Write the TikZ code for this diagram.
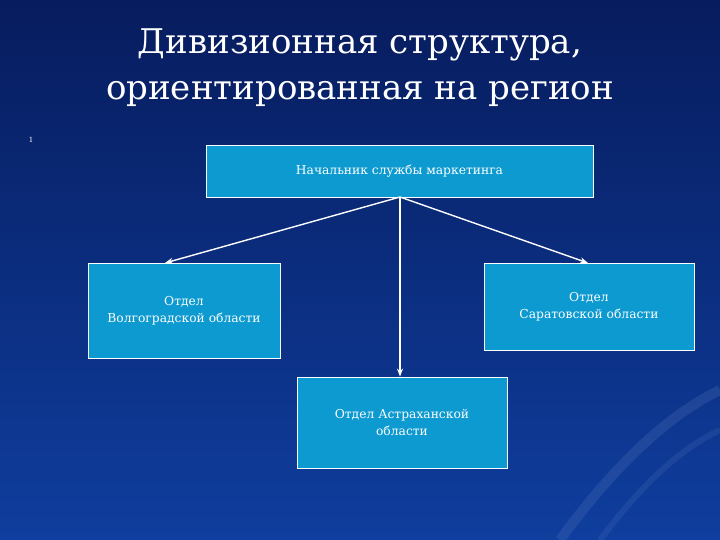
\documentclass[tikz,border=0pt]{standalone}
\usepackage{fontspec}
\setmainfont{DejaVu Serif}
\usetikzlibrary{arrows.meta}
\definecolor{bgtop}{HTML}{071C5E}
\definecolor{bgbot}{HTML}{0F3E9E}
\definecolor{boxc}{HTML}{0C9AD0}
\begin{document}
\begin{tikzpicture}[x=1pt,y=-1pt,
  box/.style={draw=white,line width=0.8pt,fill=boxc,text=white,align=center,font=\fontsize{12.3}{17}\selectfont,inner sep=2pt},
  conn/.style={draw=white,line width=1.4pt,-{Stealth[length=8pt,width=6pt]}}]
\shade[top color=bgtop,bottom color=bgbot] (0,0) rectangle (720,540);
\useasboundingbox (0,0) rectangle (720,540);
\draw[bgbot!70!white,opacity=0.25,line width=10pt] (560,540) .. controls (640,430) and (700,400) .. (720,390);
\draw[bgbot!70!white,opacity=0.2,line width=6pt] (600,540) .. controls (660,460) and (700,440) .. (720,430);
\node[text=white,align=center,font=\fontsize{34}{46}\selectfont] (title) at (360,68) {Дивизионная структура,\\ориентированная на регион};
\node[text=white,font=\fontsize{7}{8}\selectfont] (one) at (31,140) {1};
\node[box,minimum width=387,minimum height=52] (top) at (399.5,171) {Начальник службы маркетинга};
\node[box,minimum width=192,minimum height=95] (left) at (184,310.5) {Отдел\\Волгоградской области};
\node[box,minimum width=210,minimum height=87] (right) at (589,306.5) {Отдел\\Саратовской области};
\node[box,minimum width=210,minimum height=91] (bot) at (402,422.5) {Отдел Астраханской\\области};
\coordinate (src) at (400,197);
\coordinate (lt) at (165,263);
\coordinate (rt) at (588,263);
\draw[conn] (src) -- (lt);
\draw[conn] (src) -- (rt);
\draw[conn] (src) -- (bot.north -| src);
\end{tikzpicture}
\end{document}
